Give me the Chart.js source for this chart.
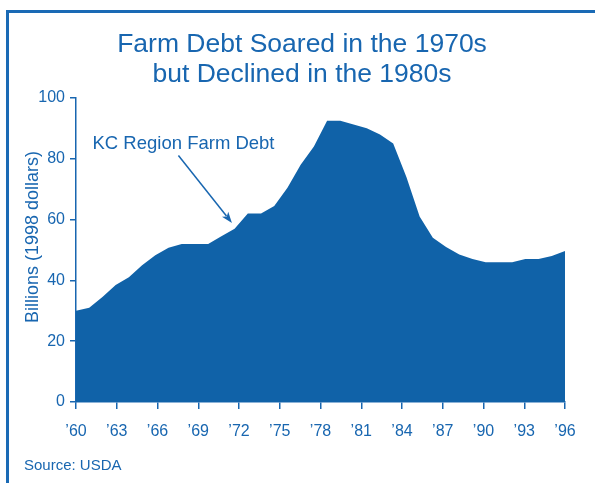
<!DOCTYPE html>
<html>
<head>
<meta charset="utf-8">
<title>Farm Debt</title>
<script src="https://cdn.jsdelivr.net/npm/chart.js@4.4.1/dist/chart.umd.min.js"></script>
<style>
  html, body { margin: 0; padding: 0; background: #fff; overflow: hidden; }
  body { width: 595px; height: 483px; position: relative; }
  #ramecek { position: absolute; left: 6px; top: 10px; width: 620px; height: 500px;
             border-top: 3px solid #1a6ab5; border-left: 3px solid #1a6ab5; }
  #graf { position: absolute; left: 0; top: 0; }
</style>
</head>
<body>
<div id="ramecek"><canvas id="graf" width="586" height="470"></canvas></div>
<script>
// KC region farm debt, billions of 1998 dollars
const roky = [1960, 1961, 1962, 1963, 1964, 1965, 1966, 1967, 1968, 1969,
              1970, 1971, 1972, 1973, 1974, 1975, 1976, 1977, 1978, 1979,
              1980, 1981, 1982, 1983, 1984, 1985, 1986, 1987, 1988, 1989,
              1990, 1991, 1992, 1993, 1994, 1995, 1996, 1997];
const dluh = [30, 31, 34.5, 38.5, 41, 45, 48.3, 50.7, 52, 52,
              52, 54.5, 57, 62, 62, 64.5, 70.5, 78, 84, 92.5,
              92.5, 91.3, 90, 88, 85, 74, 61, 54, 51, 48.5,
              47, 46, 46, 46, 47, 47, 48, 49.7];
const popiskyX = [1960, 1963, 1966, 1969, 1972, 1975, 1978, 1981, 1984, 1987, 1990, 1993, 1996];
const popiskyY = [0, 20, 40, 60, 80, 100];

const MODRA = "#1866b0";
const VYPLN = "#1062a8";
const PISMO = "Liberation Sans, Arial, Helvetica, sans-serif";

// popisek se sipkou, v jednotkach os (index roku, hodnota)
const poznamka = { text: "KC Region Farm Debt", pozice: [1.25, 85.0], od: [7.75, 81.1], k: [11.8, 58.9] };

const popisky = {
    id: "popisky",
    afterDraw(chart) {
        const ctx = chart.ctx;
        const sx = chart.scales.x, sy = chart.scales.y;
        const area = chart.chartArea;
        ctx.save();
        ctx.fillStyle = MODRA;
        ctx.strokeStyle = MODRA;

        // popisek osy Y
        ctx.save();
        ctx.translate(24, (area.top + area.bottom) / 2 - 13);
        ctx.rotate(-Math.PI / 2);
        ctx.font = "18px " + PISMO;
        ctx.textAlign = "center";
        ctx.textBaseline = "middle";
        ctx.fillText("Billions (1998 dollars)", 0, 0);
        ctx.restore();

        // poznamka
        ctx.font = "18.5px " + PISMO;
        ctx.textAlign = "left";
        ctx.textBaseline = "middle";
        ctx.fillText(poznamka.text, sx.getPixelForValue(poznamka.pozice[0]), sy.getPixelForValue(poznamka.pozice[1]));

        const x1 = sx.getPixelForValue(poznamka.od[0]), y1 = sy.getPixelForValue(poznamka.od[1]);
        const x2 = sx.getPixelForValue(poznamka.k[0]), y2 = sy.getPixelForValue(poznamka.k[1]);
        const uhel = Math.atan2(y2 - y1, x2 - x1);
        const delka = 11, sirka = 4;
        ctx.lineWidth = 1.5;
        ctx.beginPath();
        ctx.moveTo(x1, y1);
        ctx.lineTo(x2 - Math.cos(uhel) * delka * 0.8, y2 - Math.sin(uhel) * delka * 0.8);
        ctx.stroke();
        ctx.beginPath();
        ctx.moveTo(x2, y2);
        ctx.lineTo(x2 - Math.cos(uhel) * delka - Math.sin(uhel) * sirka, y2 - Math.sin(uhel) * delka + Math.cos(uhel) * sirka);
        ctx.lineTo(x2 - Math.cos(uhel) * delka * 0.75, y2 - Math.sin(uhel) * delka * 0.75);
        ctx.lineTo(x2 - Math.cos(uhel) * delka + Math.sin(uhel) * sirka, y2 - Math.sin(uhel) * delka - Math.cos(uhel) * sirka);
        ctx.closePath();
        ctx.fill();

        // zdroj
        ctx.font = "15px " + PISMO;
        ctx.textBaseline = "middle";
        ctx.fillText("Source: USDA", 15, 453);
        ctx.restore();
    }
};

window.addEventListener("DOMContentLoaded", function() {
    const ctx = document.getElementById("graf").getContext("2d");
    new Chart(ctx, {
        type: "line",
        data: {
            labels: roky,
            datasets: [{
                data: dluh,
                fill: "origin",
                backgroundColor: VYPLN,
                borderWidth: 0,
                pointRadius: 0,
                tension: 0,
                xAxisID: "x",
                yAxisID: "y"
            }]
        },
        options: {
            responsive: false,
            animation: false,
            // stejny okraj vlevo i vpravo, aby byl nadpis na stredu
            layout: { padding: { left: 30, right: 30, top: 0, bottom: 0 } },
            plugins: {
                legend: { display: false },
                tooltip: { enabled: false },
                title: {
                    display: true,
                    text: ["Farm Debt Soared in the 1970s", "but Declined in the 1980s"],
                    color: MODRA,
                    font: { family: PISMO, size: 26.5, weight: "normal", lineHeight: 1.15 },
                    padding: { top: 16, bottom: 8 }
                }
            },
            scales: {
                x: { type: "category", display: false, offset: false },
                x2: {
                    type: "linear",
                    position: "bottom",
                    min: 1960,
                    max: 1996,
                    afterBuildTicks: function(scale) { scale.ticks = popiskyX.map(function(v) { return { value: v }; }); },
                    afterFit: function(scale) { scale.height = 81; },
                    grid: { drawOnChartArea: false, drawTicks: true, tickLength: 7, color: MODRA, lineWidth: 1.5 },
                    border: { display: true, color: MODRA, width: 1.5 },
                    ticks: {
                        color: MODRA,
                        font: { family: PISMO, size: 16 },
                        padding: 13,
                        maxRotation: 0,
                        autoSkip: false,
                        callback: function(v) { return "\u2019" + String(v).slice(2); }
                    }
                },
                y: {
                    min: 0,
                    max: 100,
                    afterBuildTicks: function(scale) { scale.ticks = popiskyY.map(function(v) { return { value: v }; }); },
                    afterFit: function(scale) { scale.width = 37; },
                    grid: { drawOnChartArea: false, drawTicks: true, tickLength: 6, color: MODRA, lineWidth: 1.5 },
                    border: { display: true, color: MODRA, width: 1.5 },
                    ticks: { color: MODRA, font: { family: PISMO, size: 16 }, padding: 5 }
                }
            }
        },
        plugins: [popisky]
    });
});
</script>
</body>
</html>
